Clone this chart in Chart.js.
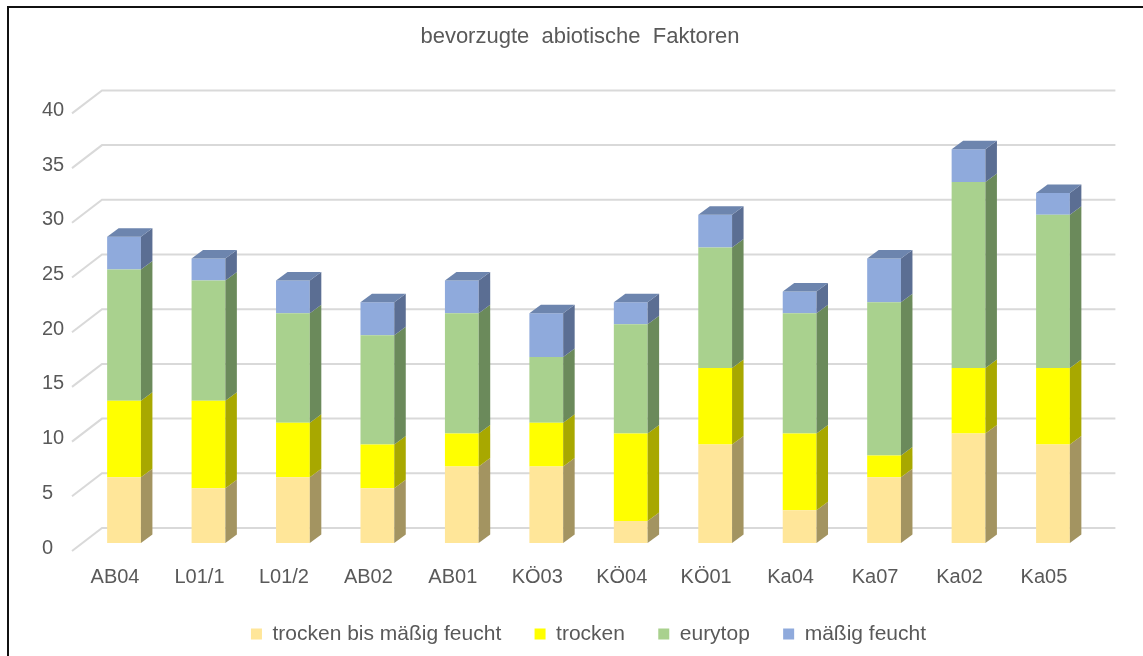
<!DOCTYPE html>
<html>
<head>
<meta charset="utf-8">
<script src="https://cdn.jsdelivr.net/npm/chart.js@4/dist/chart.umd.min.js"></script>
<style>
  html, body { margin: 0; padding: 0; background: #fff; overflow: hidden; }
  #wrap { width: 1143px; height: 656px; position: relative; }
</style>
</head>
<body>
<div id="wrap"><canvas id="chart"></canvas></div>
<script>
// data
const sites = ["AB04", "L01/1", "L01/2", "AB02", "AB01", "KÖ03", "KÖ04", "KÖ01", "Ka04", "Ka07", "Ka02", "Ka05"];
const trockenBisMaessig = [6, 5, 6, 5, 7, 7, 2, 9, 3, 6, 10, 9];
const trocken = [7, 8, 5, 4, 3, 4, 8, 7, 7, 2, 6, 7];
const eurytop = [12, 11, 10, 10, 11, 6, 10, 11, 11, 14, 17, 14];
const maessigFeucht = [3, 2, 3, 3, 3, 4, 2, 3, 2, 4, 3, 2];
const seriesNames = ["trocken bis mäßig feucht", "trocken", "eurytop", "mäßig feucht"];

const frontColors = ["#FFE699", "#FFFF00", "#A9D18E", "#8FAADC"];
const sideColors = ["#A39461", "#A8A800", "#6B8A5B", "#5B6E93"];
const topColor = "#6D85AE";
const textColor = "#595959";
const fontFamily = '"Liberation Sans", Arial, sans-serif';

// 3d offsets
const DX = 11.5, DY = 8.5;
const BACK_X = 20.2, BACK_Y = 15;
const FRONT_X = 9.8, FRONT_Y = 8;

const frame = {
  id: "frame",
  beforeDraw(chart) {
    const ctx = chart.ctx;
    ctx.save();
    ctx.fillStyle = "#fff";
    ctx.fillRect(0, 0, chart.width, chart.height);
    ctx.restore();
  },
  afterDraw(chart) {
    const ctx = chart.ctx;
    ctx.save();
    ctx.fillStyle = "#111";
    ctx.fillRect(7, 6, chart.width - 7, 2);
    ctx.fillRect(7, 6, 2, chart.height - 6);
    ctx.fillStyle = textColor;
    ctx.font = "22px " + fontFamily;
    ctx.textAlign = "center";
    ctx.textBaseline = "middle";
    ctx.fillText("bevorzugte  abiotische  Faktoren", 580, 37);
    ctx.restore();
  }
};

const bar3d = {
  id: "bar3d",
  beforeDatasetsDraw(chart) {
    // gridlines on the back wall, with the slanted piece on the side wall
    const ctx = chart.ctx;
    const area = chart.chartArea;
    const yScale = chart.scales.y;
    ctx.save();
    ctx.strokeStyle = "#D9D9D9";
    ctx.lineWidth = 2;
    yScale.ticks.forEach(t => {
      const py = yScale.getPixelForValue(t.value);
      ctx.beginPath();
      ctx.moveTo(area.left - FRONT_X, py + FRONT_Y);
      ctx.lineTo(area.left + BACK_X, py - BACK_Y);
      ctx.lineTo(area.right + BACK_X, py - BACK_Y);
      ctx.stroke();
    });
    ctx.restore();
  },
  afterDatasetsDraw(chart) {
    const ctx = chart.ctx;
    const last = chart.data.datasets.length - 1;
    ctx.save();
    chart.data.datasets.forEach((ds, i) => {
      const meta = chart.getDatasetMeta(i);
      meta.data.forEach(bar => {
        const { x, y, base, width } = bar.getProps(["x", "y", "base", "width"], true);
        const left = x - width / 2;
        const right = x + width / 2;
        ctx.fillStyle = sideColors[i];
        ctx.beginPath();
        ctx.moveTo(right, y);
        ctx.lineTo(right + DX, y - DY);
        ctx.lineTo(right + DX, base - DY);
        ctx.lineTo(right, base);
        ctx.closePath();
        ctx.fill();
        if (i === last) {
          ctx.fillStyle = topColor;
          ctx.beginPath();
          ctx.moveTo(left, y);
          ctx.lineTo(left + DX, y - DY);
          ctx.lineTo(right + DX, y - DY);
          ctx.lineTo(right, y);
          ctx.closePath();
          ctx.fill();
        }
      });
    });
    ctx.restore();
  }
};

document.addEventListener("DOMContentLoaded", () => {
  const values = [trockenBisMaessig, trocken, eurytop, maessigFeucht];

  new Chart(document.getElementById("chart"), {
    type: "bar",
    data: {
      labels: sites,
      datasets: values.map((v, i) => ({
        label: seriesNames[i],
        data: v,
        backgroundColor: frontColors[i],
        borderWidth: 0,
        barPercentage: 0.4,
        categoryPercentage: 1
      }))
    },
    options: {
      responsive: true,
      maintainAspectRatio: false,
      animation: false,
      layout: { padding: { top: 105.4, left: 42, right: 47.8, bottom: 1.5 } },
      plugins: {
        title: { display: false },
        tooltip: { enabled: false },
        legend: {
          position: "bottom",
          fullSize: false,
          labels: {
            boxWidth: 11,
            boxHeight: 11,
            padding: 10,
            color: textColor,
            font: { family: fontFamily, size: 21 },
            generateLabels(chart) {
              const items = Chart.defaults.plugins.legend.labels.generateLabels(chart);
              items.forEach((it, i) => {
                it.lineWidth = 0;
                if (i < items.length - 1) it.text = it.text + "    ";
              });
              return items;
            }
          }
        }
      },
      scales: {
        x: {
          stacked: true,
          grid: { display: false, drawTicks: false },
          border: { display: false },
          ticks: {
            color: textColor,
            font: { family: fontFamily, size: 20 },
            labelOffset: -9,
            padding: 22,
            maxRotation: 0,
            autoSkip: false
          },
          afterFit(s) { s.height = 70.5; }
        },
        y: {
          stacked: true,
          min: 0,
          max: 40,
          grid: { display: false, drawTicks: false },
          border: { display: false },
          ticks: {
            stepSize: 5,
            color: textColor,
            font: { family: fontFamily, size: 20 },
            crossAlign: "far",
            labelOffset: 5,
            padding: 0
          },
          afterFit(s) { s.width = 39.8; }
        }
      }
    },
    plugins: [frame, bar3d]
  });
});
</script>
</body>
</html>
